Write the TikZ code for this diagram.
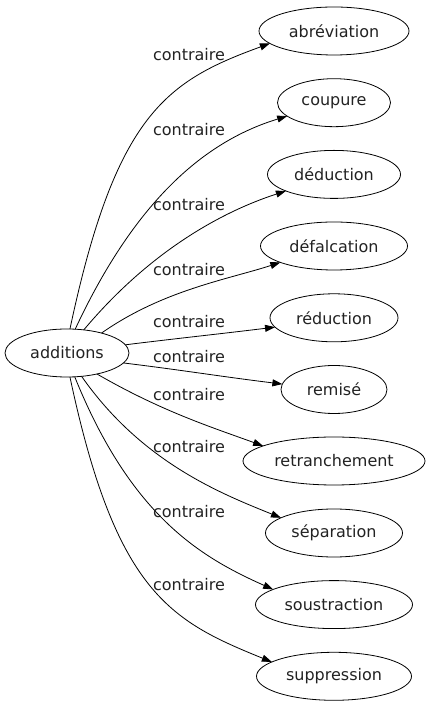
\documentclass[tikz,border=0pt]{standalone}
\usepackage{fontspec}
\setmainfont{DejaVu Sans}
\usepackage{tikz}
\usetikzlibrary{arrows.meta,shapes.geometric}
\definecolor{glink}{RGB}{0,0,0}
\definecolor{gtext}{RGB}{34,34,34}

\begin{document}
\begin{tikzpicture}[x=1pt, y=1pt,
      term/.style={draw, ellipse, minimum height=48pt, inner sep=0pt, outer sep=0pt, line width=0.8pt, text=gtext, font=\fontsize{16}{19}\selectfont},
      rel/.style={inner sep=0pt, text=gtext, font=\fontsize{16}{19}\selectfont},
      link/.style={draw=glink, line width=0.8pt, -{Triangle[length=10pt, width=7pt]}}
    ]
      \useasboundingbox (0,0) rectangle (426,707);

      \node[term, minimum width=124pt] (additions) at (67, 354) {additions};

      \node[term, minimum width=150pt] (abreviation) at (334, 676) {abréviation};
      \node[term, minimum width=113pt] (coupure) at (334, 604.3) {coupure};
      \node[term, minimum width=133pt] (deduction) at (334, 532.6) {déduction};
      \node[term, minimum width=147pt] (defalcation) at (334, 461) {défalcation};
      \node[term, minimum width=128pt] (reduction) at (334, 389.2) {réduction};
      \node[term, minimum width=106pt] (remise) at (334, 317.5) {remisé};
      \node[term, minimum width=182pt] (retranchement) at (334, 246) {retranchement};
      \node[term, minimum width=137pt] (separation) at (334, 174) {séparation};
      \node[term, minimum width=157pt] (soustraction) at (334, 102.4) {soustraction};
      \node[term, minimum width=155pt] (suppression) at (334, 30.7) {suppression};

      \draw[link] (additions.83) to[out=78, in=200, out distance=220pt, in distance=110pt] (abreviation.191);
      \draw[link] (additions.71) to[out=65, in=197, out distance=150pt, in distance=80pt] (coupure.196);
      \draw[link] (additions.54) to[out=50, in=198, out distance=105pt, in distance=65pt] (deduction.199);
      \draw[link] (additions.30) to[out=35, in=198, out distance=75pt, in distance=55pt] (defalcation.197);
      \draw[link] (additions.8) to[out=7, in=187] (reduction.189);
      \draw[link] (additions.-10) to[out=-7, in=173] (remise.174);
      \draw[link] (additions.-35) to[out=-30, in=160, out distance=75pt, in distance=55pt] (retranchement.168);
      \draw[link] (additions.-58) to[out=-55, in=158, out distance=105pt, in distance=65pt] (separation.164);
      \draw[link] (additions.-72) to[out=-68, in=156, out distance=150pt, in distance=80pt] (soustraction.166);
      \draw[link] (additions.-83) to[out=-78, in=158, out distance=220pt, in distance=110pt] (suppression.167);

      \node[rel] (rel1) at (189, 652) {contraire};
      \node[rel] (rel2) at (189, 577) {contraire};
      \node[rel] (rel3) at (189, 502) {contraire};
      \node[rel] (rel4) at (189, 437) {contraire};
      \node[rel] (rel5) at (189, 385) {contraire};
      \node[rel] (rel6) at (189, 350) {contraire};
      \node[rel] (rel7) at (189, 312) {contraire};
      \node[rel] (rel8) at (189, 260) {contraire};
      \node[rel] (rel9) at (189, 195) {contraire};
      \node[rel] (rel10) at (189, 122) {contraire};
    \end{tikzpicture}
\end{document}
